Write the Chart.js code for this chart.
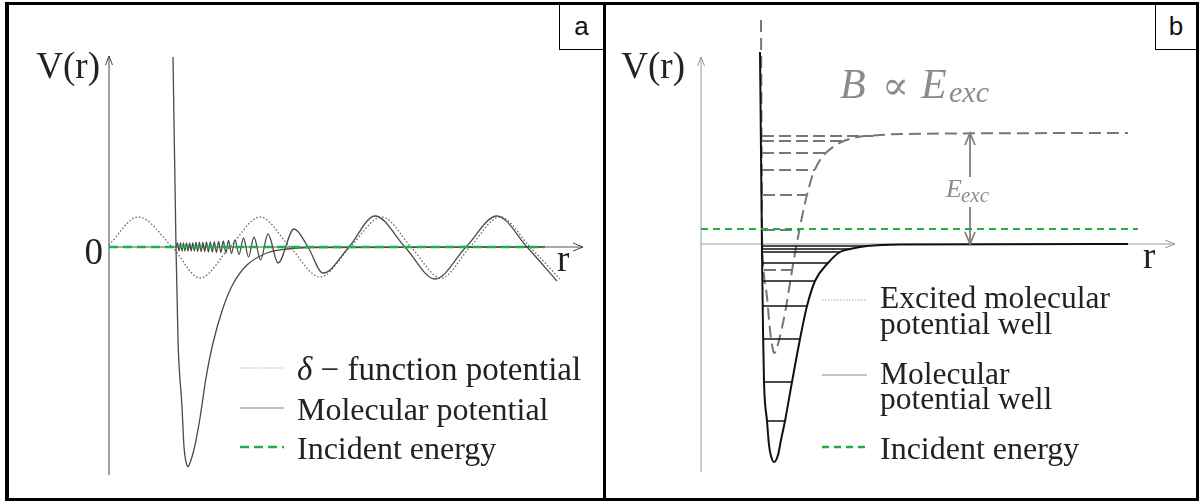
<!DOCTYPE html>
<html>
<head>
<meta charset="utf-8">
<script src="https://cdn.jsdelivr.net/npm/chart.js@4/dist/chart.umd.min.js"></script>
<style>
  body { margin: 0; background: #fff; width: 1199px; height: 502px; position: relative; overflow: hidden; }
  .panel { position: absolute; top: 2px; height: 499px; box-sizing: border-box; border: 3px solid #000; }
  #panelA { left: 5px; width: 601px; border-left-width: 4px; }
  #panelB { left: 603px; width: 596px; }
  .panel canvas { position: absolute; left: 0; top: 0; }
  .tag { position: absolute; top: 0; right: 0; height: 45px; box-sizing: border-box;
         border-left: 1px solid #000; border-bottom: 1px solid #000; background: #fff;
         font-size: 26px; font-family: "Liberation Sans"; color: #111;
         text-align: center; line-height: 42px; }
  .lbl { position: absolute; white-space: nowrap; line-height: normal; color: #222; }
</style>
</head>
<body>
<div class="panel" id="panelA">
  <canvas id="chartA" width="594" height="493"></canvas>
  <div class="tag" style="width:44px">a</div>
</div>
<div class="panel" id="panelB">
  <canvas id="chartB" width="590" height="493"></canvas>
  <div class="tag" style="width:41px">b</div>
</div>
<script>
// r and V are in plot units, origin where the two axes cross

// ---- panel a ----
var axisTopA = 19.1, axisBottomA = -22.8, axisEndA = 47.4;

// delta-function potential wave (dotted)
var deltaR = [0, 2.9, 6.4, 9.1, 12.1, 15.1, 18.1, 21.1, 24.1, 27.3, 30.2, 33.2, 36.1, 39.1, 42.1, 45.1];
var deltaV = [0.2, 3.0, -0.1, -3.1, 0, 3.0, 0, -3.0, 0, 3.0, 0, -3.1, 0, 3.0, 0, -3.2];

// molecular potential curve
var molR = [6.4, 6.7, 6.9, 7.3, 7.5, 7.7, 7.9, 8.1, 8.6, 9.1, 9.7, 10.4, 11.4, 12.4, 13.8, 15.8, 17.8, 20.1, 43.6];
var molV = [19.0, 0, -9.3, -16.0, -20.0, -21.5, -21.95, -21.6, -19.8, -17.1, -13.1, -9.6, -6.1, -3.7, -1.8, -0.6, -0.2, -0.05, 0];

// wave in the molecular potential (solid, chirped)
var waveR = [6.7, 6.85, 7.0, 7.15, 7.3, 7.45, 7.6, 7.75, 7.9, 8.06, 8.22, 8.38, 8.54, 8.7, 8.87, 9.04, 9.21, 9.39, 9.57,
             9.75, 9.94, 10.13, 10.33, 10.53, 10.74, 10.96, 11.19, 11.43, 11.68, 11.95, 12.25, 12.6, 13.0, 13.45, 13.95,
             14.5, 15.15, 15.9, 16.9, 18.5, 19.9, 21.4, 24.0, 26.6, 29.6, 32.6, 35.7, 38.8, 41.8, 44.8];
var waveV = [0, 0.4, -0.4, 0.4, -0.4, 0.4, -0.4, 0.4, -0.4, 0.4, -0.4, 0.4, -0.4, 0.45, -0.45, 0.45, -0.45, 0.45, -0.45,
             0.5, -0.5, 0.5, -0.5, 0.5, -0.55, 0.55, -0.55, 0.6, -0.6, 0.65, -0.65, 0.7, -0.75, 0.9, -1.0,
             1.0, -1.3, 1.3, -1.6, 1.8, 0, -2.6, 0, 3.1, 0, -3.2, 0, 3.1, 0, -3.4];

var incidentA = 0, incidentEndA = 43.6;

// ---- panel b ----
var axisTopB = 18.7, axisBottomB = -22.8, axisEndB = 47.4;

// molecular potential well
var wellR = [5.9, 6.0, 6.1, 6.2, 6.3, 6.6, 6.8, 7.0, 7.3, 7.7, 8.0, 8.4, 9.1, 9.9, 10.6, 11.4, 12.7, 13.9, 14.9, 16.6, 19.9, 42.7];
var wellV = [19.2, 9.4, -0.6, -8.6, -13.8, -17.7, -20.1, -21.2, -21.8, -21.1, -19.6, -17.7, -13.8, -9.5, -6.2, -3.7, -1.9, -0.8, -0.5, -0.2, -0.05, 0];
var levelV = [-0.2, -0.5, -0.8, -1.9, -3.7, -6.2, -9.5, -13.8, -17.7];
var levelFrom = [6.1, 6.1, 6.1, 6.1, 6.1, 6.2, 6.2, 6.3, 6.6];
var levelTo = [16.6, 14.9, 13.9, 12.7, 11.4, 10.6, 9.9, 9.1, 8.4];

// excited molecular potential well
var excR = [6.0, 6.05, 6.1, 6.2, 6.6, 6.9, 7.2, 7.35, 7.8, 8.4, 8.9, 9.4, 9.9, 10.4, 11.1, 11.9, 13.2, 15.2, 17.9, 20.0, 42.7];
var excV = [22.4, 12.0, 1.4, -1.9, -5.3, -8.6, -10.6, -10.9, -9.6, -6.9, -3.9, -0.9, 1.7, 4.1, 6.7, 8.4, 9.7, 10.6, 10.9, 11.0, 11.1];
var excLevelV = [10.8, 10.3, 9.1, 7.4, 4.9, 1.4, -2.6];
var excLevelFrom = [6.1, 6.1, 6.1, 6.1, 6.2, 6.2, 6.3];
var excLevelTo = [17.2, 14.2, 12.5, 11.4, 10.5, 9.9, 9.2];

var incidentB = 1.5, incidentEndB = 43.7;

// E_exc arrow: position and the gap left for its label
var eArrowR = 26.9;
var eArrowV = [0, 3.7, 6.7, 11.1];

var SERIF = "'Liberation Serif', serif";

function pts(r, v) {
  return r.map(function (x, i) { return { x: x, y: v[i] }; });
}

function line(r, v, style) {
  return Object.assign({
    data: pts(r, v), showLine: true, pointRadius: 0, pointHoverRadius: 0,
    fill: false, borderWidth: 1, borderColor: '#555', tension: 0
  }, style);
}

// open arrow head, tip at (x,y), pointing along (dx,dy)
function chevron(ctx, x, y, dx, dy, w, len) {
  var bx = x - dx * len, by = y - dy * len;
  ctx.beginPath();
  ctx.moveTo(bx - dy * w, by + dx * w);
  ctx.lineTo(x, y);
  ctx.lineTo(bx + dy * w, by - dx * w);
  ctx.stroke();
}

function sample(ctx, x1, x2, y, color, width, dash) {
  ctx.save();
  ctx.strokeStyle = color;
  ctx.lineWidth = width;
  ctx.setLineDash(dash);
  ctx.beginPath();
  ctx.moveTo(x1, y);
  ctx.lineTo(x2, y);
  ctx.stroke();
  ctx.restore();
}

// text label placed by its baseline; html allowed for italics
function label(panel, html, x, base, size, opts) {
  opts = opts || {};
  var el = document.createElement('div');
  el.className = 'lbl';
  el.innerHTML = html;
  el.style.setProperty('font-family', opts.family || SERIF, 'important');
  el.style.fontSize = size + 'px';
  el.style.left = x + 'px';
  el.style.top = (base - 0.91 * size) + 'px';
  if (opts.italic) el.style.fontStyle = 'italic';
  if (opts.color) el.style.color = opts.color;
  if (opts.right) el.style.transform = 'translateX(-100%)';
  document.getElementById(panel).appendChild(el);
  return el;
}

function baseOptions(xmin, xmax, ymin, ymax) {
  return {
    responsive: false,
    animation: false,
    events: [],
    layout: { padding: 0 },
    plugins: { legend: { display: false }, tooltip: { enabled: false } },
    scales: {
      x: { type: 'linear', display: false, min: xmin, max: xmax },
      y: { type: 'linear', display: false, min: ymin, max: ymax }
    }
  };
}

// ---------- panel a ----------
var marksA = {
  id: 'marksA',
  afterDatasetsDraw: function (chart) {
    var ctx = chart.ctx, sx = chart.scales.x, sy = chart.scales.y;
    var x0 = sx.getPixelForValue(0), y0 = sy.getPixelForValue(0);
    ctx.save();
    ctx.strokeStyle = '#444';
    ctx.lineWidth = 1;
    chevron(ctx, x0, sy.getPixelForValue(axisTopA), 0, -1, 3.5, 9);
    chevron(ctx, sx.getPixelForValue(axisEndA), y0, 1, 0, 4, 10);
    // legend keys
    sample(ctx, 231, 275, 363, '#aaa', 1.2, [1.5, 1.5]);
    sample(ctx, 231, 275, 403, '#888', 1.2, []);
    sample(ctx, 231, 275, 442, '#1fb040', 2.5, [9, 5]);
    ctx.restore();
  }
};

new Chart(document.getElementById('chartA'), {
  type: 'scatter',
  data: {
    datasets: [
      line([0, incidentEndA], [incidentA, incidentA], { borderColor: '#1fb040', borderWidth: 2.5, borderDash: [9, 5] }),
      line(waveR, waveV, { borderColor: '#4a4a4a', borderWidth: 1.3, cubicInterpolationMode: 'monotone' }),
      line(molR, molV, { borderColor: '#4a4a4a', borderWidth: 1.3, cubicInterpolationMode: 'monotone' }),
      line(deltaR, deltaV, { borderColor: '#666', borderWidth: 1.3, borderDash: [1.5, 2], cubicInterpolationMode: 'monotone' }),
      line([0, 0], [axisBottomA, axisTopA], { borderColor: '#444', borderWidth: 1 }),
      line([0, axisEndA], [0, 0], { borderColor: '#555', borderWidth: 1 })
    ]
  },
  options: baseOptions(-10, 49.4, -25.1, 24.2),
  plugins: [marksA]
});

label('panelA', 'V(r)', 91, 73, 37, { right: true });
label('panelA', '0', 94, 259, 37, { right: true });
label('panelA', 'r', 548, 266, 37);
label('panelA', '<i>\u03b4</i> \u2212 function potential', 288, 376, 33);
label('panelA', 'Molecular potential', 288, 415, 32);
label('panelA', 'Incident energy', 288, 454, 32);

// ---------- panel b ----------
var marksB = {
  id: 'marksB',
  afterDatasetsDraw: function (chart) {
    var ctx = chart.ctx, sx = chart.scales.x, sy = chart.scales.y;
    var x0 = sx.getPixelForValue(0), y0 = sy.getPixelForValue(0);
    var xa = sx.getPixelForValue(eArrowR);
    ctx.save();
    ctx.strokeStyle = '#999';
    ctx.lineWidth = 1;
    chevron(ctx, x0, sy.getPixelForValue(axisTopB), 0, -1, 3.5, 9);
    chevron(ctx, sx.getPixelForValue(axisEndB), y0, 1, 0, 4, 10);
    ctx.strokeStyle = '#808080';
    ctx.lineWidth = 1.8;
    chevron(ctx, xa, sy.getPixelForValue(eArrowV[3]), 0, -1, 5, 12);
    chevron(ctx, xa, sy.getPixelForValue(eArrowV[0]), 0, 1, 5, 12);
    // legend keys
    sample(ctx, 216, 261, 295, '#aaa', 1.2, [1.5, 1.5]);
    sample(ctx, 216, 261, 370, '#888', 1.2, []);
    sample(ctx, 216, 261, 442, '#1fb040', 2.5, [7, 5]);
    ctx.restore();
  }
};

var dsB = [
  line([0, incidentEndB], [incidentB, incidentB], { borderColor: '#1fb040', borderWidth: 2, borderDash: [7, 5] })
];
levelV.forEach(function (v, i) {
  dsB.push(line([levelFrom[i], levelTo[i]], [v, v], { borderColor: '#111', borderWidth: 1.5 }));
});
dsB.push(line(wellR, wellV, { borderColor: '#111', borderWidth: 2, cubicInterpolationMode: 'monotone' }));
excLevelV.forEach(function (v, i) {
  dsB.push(line([excLevelFrom[i], excLevelTo[i]], [v, v], { borderColor: '#777', borderWidth: 2, borderDash: [12, 5] }));
});
dsB.push(line(excR, excV, { borderColor: '#777', borderWidth: 2, borderDash: [12, 6], cubicInterpolationMode: 'monotone' }));
dsB.push(line([eArrowR, eArrowR], [eArrowV[0], eArrowV[1]], { borderColor: '#808080', borderWidth: 1.8 }));
dsB.push(line([eArrowR, eArrowR], [eArrowV[2], eArrowV[3]], { borderColor: '#808080', borderWidth: 1.8 }));
dsB.push(line([0, 0], [axisBottomB, axisTopB], { borderColor: '#999', borderWidth: 1 }));
dsB.push(line([0, axisEndB], [0, 0], { borderColor: '#999', borderWidth: 1 }));

new Chart(document.getElementById('chartB'), {
  type: 'scatter',
  data: { datasets: dsB },
  options: baseOptions(-9.5, 49.5, -25.4, 23.9),
  plugins: [marksB]
});

var grey = { color: '#8c8c8c', family: "'DejaVu Serif', serif" };
var greyIt = { italic: true, color: '#8c8c8c' };
label('panelB', 'V(r)', 79, 73, 37, { right: true });
label('panelB', 'r', 537, 263, 37);
label('panelB', 'B', 234, 93, 42, greyIt);
label('panelB', '\u221d', 276, 93, 40, grey);
label('panelB', 'E', 315, 93, 42, greyIt);
label('panelB', 'exc', 343, 97, 30, greyIt);
label('panelB', 'E', 340, 193, 26, greyIt);
label('panelB', 'exc', 355, 197, 21, greyIt);
label('panelB', 'Excited molecular', 274, 304, 31.5);
label('panelB', 'potential well', 274, 330, 31.5);
label('panelB', 'Molecular', 274, 380, 31.5);
label('panelB', 'potential well', 274, 405, 31.5);
label('panelB', 'Incident energy', 274, 454, 32);
</script>
</body>
</html>
